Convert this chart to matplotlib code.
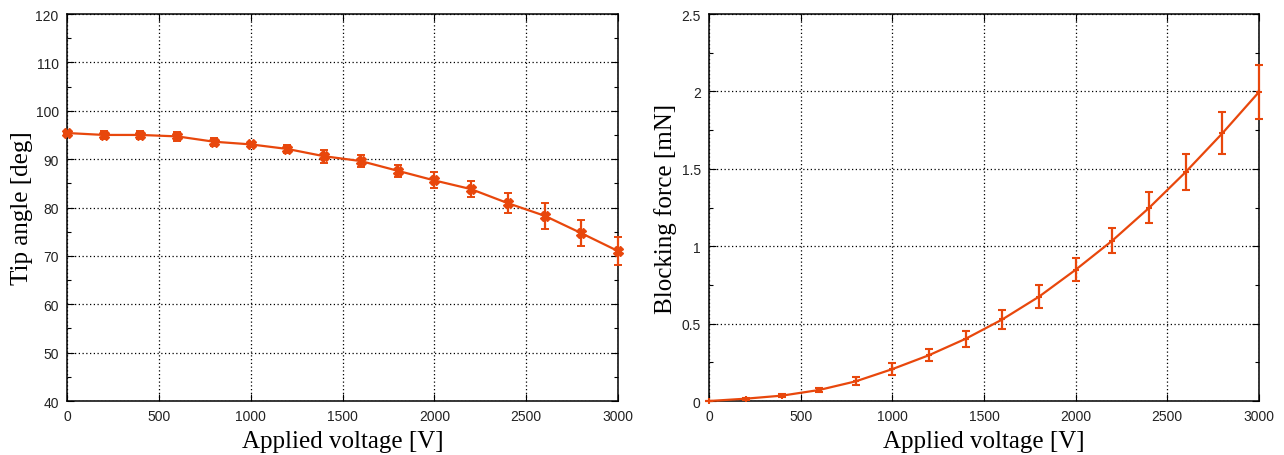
import matplotlib
matplotlib.use("Agg")
import matplotlib.pyplot as plt
from matplotlib.ticker import MultipleLocator

voltage = [0, 200, 400, 600, 800, 1000, 1200, 1400, 1600, 1800, 2000, 2200, 2400, 2600, 2800, 3000]

tip_angle = [95.4, 95.0, 95.0, 94.7, 93.6, 93.05, 92.1, 90.6, 89.6, 87.6, 85.6, 83.8, 80.9, 78.3, 74.7, 71.0]
tip_err = [0.3, 0.8, 0.8, 0.85, 0.8, 0.5, 0.8, 1.3, 1.2, 1.2, 1.65, 1.6, 2.0, 2.65, 2.7, 2.9]

force = [0.0, 0.015, 0.035, 0.071, 0.127, 0.206, 0.296, 0.402, 0.527, 0.674, 0.848, 1.036, 1.247, 1.479, 1.729, 1.996]
force_err = [0.003, 0.006, 0.01, 0.015, 0.025, 0.037, 0.04, 0.05, 0.062, 0.075, 0.075, 0.082, 0.1, 0.116, 0.136, 0.172]

color = '#e8470c'

fig = plt.figure(figsize=(12.84, 4.56), dpi=100)
ax1 = fig.add_axes([0.0522, 0.1184, 0.4291, 0.8487])
ax2 = fig.add_axes([0.5522, 0.1184, 0.4283, 0.8487])

ax1.errorbar(voltage, tip_angle, yerr=tip_err, color=color, lw=1.6, marker='X',
             ms=6.5, capsize=3, elinewidth=1.6, capthick=1.4, clip_on=False, zorder=3)
ax2.errorbar(voltage, force, yerr=force_err, color=color, lw=1.6, marker='+',
             ms=5, mew=1.5, capsize=3, elinewidth=1.6, capthick=1.4, clip_on=False, zorder=3)

ax1.set_ylim(40, 120)
ax1.yaxis.set_major_locator(MultipleLocator(10))
ax1.yaxis.set_minor_locator(MultipleLocator(5))
ax2.set_ylim(0, 2.5)
ax2.yaxis.set_major_locator(MultipleLocator(0.5))
ax2.yaxis.set_minor_locator(MultipleLocator(0.25))
ax2.yaxis.set_major_formatter(plt.FuncFormatter(lambda v, p: '%g' % v))

for ax in (ax1, ax2):
    ax.set_xlim(0, 3000)
    ax.xaxis.set_major_locator(MultipleLocator(500))
    ax.grid(True, which='major', color='black', linestyle=(0, (1, 2)), linewidth=0.9)
    ax.tick_params(which='both', direction='in', top=True, right=True,
                   labelsize=10, pad=6, width=0.8)
    ax.tick_params(which='major', length=5)
    ax.tick_params(which='minor', length=3)
    for lab in ax.get_xticklabels() + ax.get_yticklabels():
        lab.set_family('Liberation Sans')
        lab.set_color('#222222')
    for s in ax.spines.values():
        s.set_linewidth(1.1)
    ax.set_xlabel('Applied voltage [V]', family='Liberation Serif', fontsize=18, labelpad=5)

ax1.set_ylabel('Tip angle [deg]', family='Liberation Serif', fontsize=18, labelpad=2)
ax2.set_ylabel('Blocking force [mN]', family='Liberation Serif', fontsize=18, labelpad=3)

fig.savefig('out.png', dpi=100)
